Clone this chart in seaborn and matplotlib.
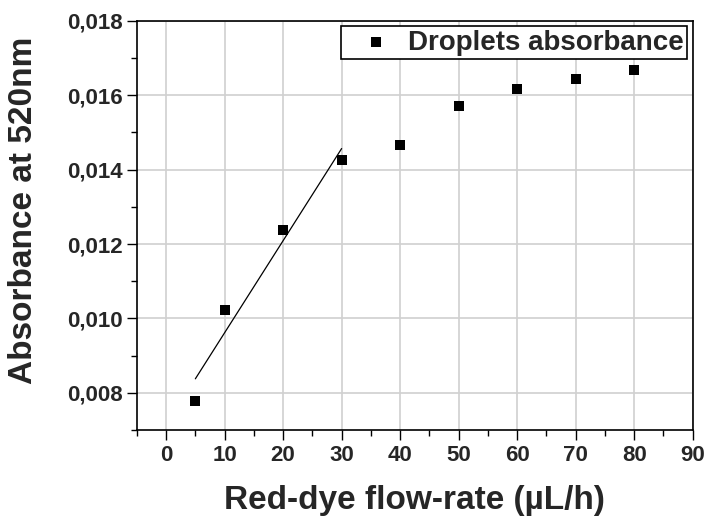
import seaborn as sns
import pandas as pd
import matplotlib.pyplot as plt
from matplotlib.ticker import MultipleLocator, FuncFormatter

# flow-rate (uL/h) vs absorbance at 520 nm
flow_rate = [5, 10, 20, 30, 40, 50, 60, 70, 80]
absorbance = [0.00778, 0.01022, 0.01238, 0.01427, 0.01467, 0.01572, 0.01617, 0.01643, 0.01667]
n_fit = 4   # linear fit over first points

df = pd.DataFrame({'flow': flow_rate, 'abs': absorbance})

sns.set_style('whitegrid')
plt.rcParams['font.family'] = ['Liberation Sans', 'DejaVu Sans']
plt.rcParams['font.weight'] = 'bold'

fig = plt.figure(figsize=(7.09, 5.17), dpi=100)
ax = fig.add_axes([0.193, 0.168, 0.784, 0.792])

sns.scatterplot(df, x='flow', y='abs', marker='s', s=50, color='black',
                edgecolor='black', linewidth=0, label='Droplets absorbance', ax=ax, zorder=3)
sns.regplot(df.iloc[:n_fit], x='flow', y='abs', ci=None, scatter=False, truncate=True,
            line_kws={'color': 'black', 'lw': 0.9}, ax=ax)

ax.set_xlim(-5, 90)
ax.set_ylim(0.007, 0.018)
ax.xaxis.set_major_locator(MultipleLocator(10))
ax.xaxis.set_minor_locator(MultipleLocator(5))
ax.yaxis.set_major_locator(MultipleLocator(0.002))
ax.yaxis.set_minor_locator(MultipleLocator(0.001))
ax.yaxis.set_major_formatter(FuncFormatter(lambda v, p: f'{v:.3f}'.replace('.', ',')))

ax.grid(True, which='major', color='#d0d0d0', lw=1.2)
ax.grid(False, which='minor')
for sp in ax.spines.values():
    sp.set_color('black')
    sp.set_linewidth(1.2)
ax.tick_params(which='major', direction='out', length=7, width=1, color='black',
               labelsize=16, bottom=True, left=True)
ax.tick_params(which='minor', direction='out', length=4, width=1, color='black',
               bottom=True, left=True)
for lab in ax.get_xticklabels() + ax.get_yticklabels():
    lab.set_fontweight('bold')

ax.set_xlabel('Red-dye flow-rate (µL/h)', fontsize=24, fontweight='bold', labelpad=14)
ax.set_ylabel('Absorbance at 520nm', fontsize=24, fontweight='bold')
ax.yaxis.set_label_coords(-0.176, 0.537)

leg = ax.legend(loc='upper right', fontsize=20, frameon=True, fancybox=False,
                borderaxespad=0.2, handletextpad=0.0, markerscale=1.0,
                borderpad=0.12, handlelength=2.3)
leg.get_frame().set_edgecolor('black')
leg.get_frame().set_linewidth(1.2)
leg.get_frame().set_alpha(1)
for t in leg.get_texts():
    t.set_fontweight('bold')

fig.savefig('out.png', dpi=100)
